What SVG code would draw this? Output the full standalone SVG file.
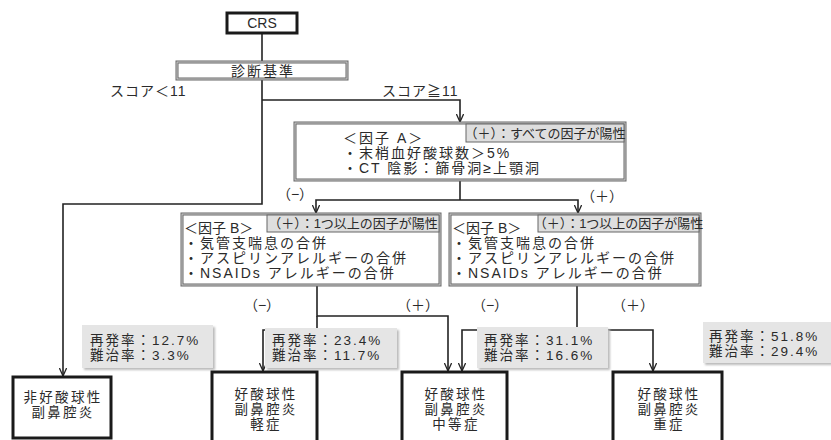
<svg xmlns="http://www.w3.org/2000/svg" width="831" height="440" viewBox="0 0 831 440">
<defs>
<marker id="arr" viewBox="0 0 10 10" refX="10" refY="5" markerWidth="8" markerHeight="8" markerUnits="userSpaceOnUse" orient="auto">
<path d="M0,0.5 L10,5 L0,9.5" fill="none" stroke="#222" stroke-width="1.6"/>
</marker>
<filter id="sh" x="-10%" y="-10%" width="130%" height="140%">
<feGaussianBlur stdDeviation="1.2"/>
</filter>
</defs>
<style>
text{font-family:"Liberation Sans","Noto Sans CJK JP",sans-serif;fill:#2a2a2a;font-size:14px}
.c{text-anchor:middle}
.term{font-size:13.5px;letter-spacing:2.3px}
.tag{font-size:13px}
.fx{letter-spacing:2px}
.st{font-size:13.5px;letter-spacing:2px}
.lbl{letter-spacing:1px}
.line{fill:none;stroke:#222;stroke-width:1.6}
.thick{fill:#fff;stroke:#1a1a1a;stroke-width:3}
.dbl{fill:#fff;stroke:#666;stroke-width:3}
.dbli{fill:none;stroke:#d0d0d0;stroke-width:1}
.tagbox{fill:#dedede;stroke:#666;stroke-width:1}
.stat{fill:#e5e5e5}
.shadow{fill:#bbb;filter:url(#sh)}
</style>
<rect width="831" height="440" fill="#fff"/>

<g id="connectors">
<path class="line" d="M262,33 V62"/>
<path class="line" d="M262,79 V204 H63 V376" marker-end="url(#arr)"/>
<path class="line" d="M262,100 H460 V122" marker-end="url(#arr)"/>
<path class="line" d="M460,180 V200"/>
<path class="line" d="M460,200 H316 V213" marker-end="url(#arr)"/>
<path class="line" d="M460,200 H578 V213" marker-end="url(#arr)"/>
<path class="line" d="M317,285 V316 H448 V371" marker-end="url(#arr)"/>
<path class="line" d="M317,316 V330 H263 V371" marker-end="url(#arr)"/>
<path class="line" d="M577,285 V330"/>
<path class="line" d="M577,330 H462 V371" marker-end="url(#arr)"/>
<path class="line" d="M577,330 H653 V371" marker-end="url(#arr)"/>
</g>

<g id="labels">
<text class="lbl" x="110" y="96">スコア＜11</text>
<text class="lbl" x="382" y="96">スコア≧11</text>
<text class="c" x="295" y="199">（−）</text>
<text class="c" x="602" y="201">（＋）</text>
<text class="c" x="262" y="310">（−）</text>
<text class="c" x="418" y="310">（＋）</text>
<text class="c" x="490" y="310">（−）</text>
<text class="c" x="633" y="310">（＋）</text>
</g>

<g id="crs">
<rect class="thick" x="227" y="13" width="70" height="20"/>
<text class="c" x="262" y="28">CRS</text>
</g>

<g id="criteria">
<rect class="dbl" x="177" y="62" width="170" height="17"/>
<rect class="dbli" x="177" y="62" width="170" height="17"/>
<text class="c fx" x="263" y="76">診断基準</text>
</g>

<g id="factorA">
<rect class="dbl" x="295" y="123" width="330" height="57"/>
<rect class="dbli" x="295" y="123" width="330" height="57"/>
<rect class="tagbox" x="466" y="124" width="158" height="18"/>
<text class="tag c" x="545" y="137.5">（＋）：すべての因子が陽性</text>
<text class="fx" x="343" y="143">＜因子 A＞</text>
<text class="fx" x="343" y="158">・末梢血好酸球数＞5%</text>
<text class="fx" x="343" y="173">・CT 陰影：篩骨洞≥上顎洞</text>
</g>

<g id="factorB1">
<rect class="dbl" x="182" y="214" width="258" height="71"/>
<rect class="dbli" x="182" y="214" width="258" height="71"/>
<rect class="tagbox" x="267" y="215" width="172" height="17"/>
<text class="tag c" x="353" y="228">（＋）：1つ以上の因子が陽性</text>
<text x="184" y="233">＜因子 B＞</text>
<text class="fx" x="184" y="248">・気管支喘息の合併</text>
<text class="fx" x="184" y="263">・アスピリンアレルギーの合併</text>
<text class="fx" x="184" y="278">・NSAIDs アレルギーの合併</text>
</g>

<g id="factorB2">
<rect class="dbl" x="450" y="214" width="250" height="71"/>
<rect class="dbli" x="450" y="214" width="250" height="71"/>
<rect class="tagbox" x="538" y="215" width="161" height="17"/>
<text class="tag c" x="618.5" y="228">（＋）：1つ以上の因子が陽性</text>
<text x="452" y="233">＜因子 B＞</text>
<text class="fx" x="452" y="248">・気管支喘息の合併</text>
<text class="fx" x="452" y="263">・アスピリンアレルギーの合併</text>
<text class="fx" x="452" y="278">・NSAIDs アレルギーの合併</text>
</g>

<g id="stat1">
<rect class="shadow" x="84" y="327" width="131" height="43"/>
<rect class="stat" x="82" y="325" width="131" height="43"/>
<text class="st" x="90" y="345">再発率：12.7%</text>
<text class="st" x="90" y="360">難治率：3.3%</text>
</g>

<g id="stat2">
<rect class="shadow" x="267" y="330" width="132" height="40"/>
<rect class="stat" x="265" y="328" width="132" height="40"/>
<text class="st" x="272" y="345">再発率：23.4%</text>
<text class="st" x="272" y="360">難治率：11.7%</text>
</g>

<g id="stat3">
<rect class="shadow" x="479" y="329" width="131" height="41"/>
<rect class="stat" x="477" y="327" width="131" height="41"/>
<text class="st" x="484" y="345">再発率：31.1%</text>
<text class="st" x="484" y="360">難治率：16.6%</text>
</g>

<g id="stat4">
<rect class="shadow" x="705" y="324" width="128" height="41"/>
<rect class="stat" x="703" y="322" width="128" height="41"/>
<text class="st" x="709" y="341">再発率：51.8%</text>
<text class="st" x="709" y="356">難治率：29.4%</text>
</g>

<g id="nonEos">
<rect class="thick" x="13" y="377" width="98" height="61"/>
<text class="term c" x="63" y="402">非好酸球性</text>
<text class="term c" x="63" y="417">副鼻腔炎</text>
</g>

<g id="mild">
<rect class="thick" x="212" y="372" width="105" height="75"/>
<text class="term c" x="266" y="399">好酸球性</text>
<text class="term c" x="266" y="414">副鼻腔炎</text>
<text class="term c" x="266" y="429">軽症</text>
</g>

<g id="moderate">
<rect class="thick" x="402" y="372" width="105" height="75"/>
<text class="term c" x="456" y="399">好酸球性</text>
<text class="term c" x="456" y="414">副鼻腔炎</text>
<text class="term c" x="456" y="429">中等症</text>
</g>

<g id="severe">
<rect class="thick" x="613" y="372" width="109" height="75"/>
<text class="term c" x="669" y="399">好酸球性</text>
<text class="term c" x="669" y="414">副鼻腔炎</text>
<text class="term c" x="669" y="429">重症</text>
</g>
</svg>
